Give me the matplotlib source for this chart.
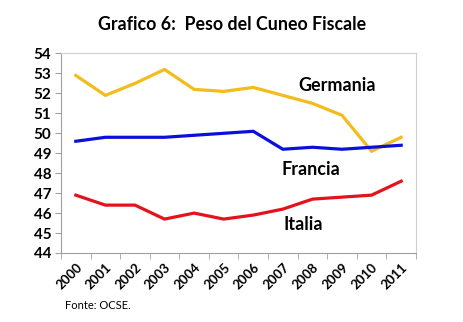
import numpy as np
import matplotlib
matplotlib.use("Agg")
import matplotlib.pyplot as plt

# data
years = ["2000", "2001", "2002", "2003", "2004", "2005",
         "2006", "2007", "2008", "2009", "2010", "2011"]
germania = [52.9, 51.9, 52.5, 53.2, 52.2, 52.1, 52.3, 51.9, 51.5, 50.9, 49.1, 49.8]
francia = [49.6, 49.8, 49.8, 49.8, 49.9, 50.0, 50.1, 49.2, 49.3, 49.2, 49.3, 49.4]
italia = [46.9, 46.4, 46.4, 45.7, 46.0, 45.7, 45.9, 46.2, 46.7, 46.8, 46.9, 47.6]

FONT = ["Lato", "DejaVu Sans"]
plt.rcParams["font.family"] = FONT

fig = plt.figure(figsize=(4.64, 3.22), dpi=100)
ax = fig.add_axes([0.1315, 0.2143, 0.765, 0.6196])

x = np.arange(len(years))
ax.plot(x, germania, color="#F2BC1B", lw=2.3, solid_joinstyle="miter")
ax.plot(x, francia, color="#0A10D8", lw=2.3, solid_joinstyle="miter")
ax.plot(x, italia, color="#E3121B", lw=2.3, solid_joinstyle="miter")

ax.set_xlim(-0.5, len(years) - 0.5)
ax.set_ylim(44, 54)
ax.set_yticks(np.arange(44, 55, 1))
ax.tick_params(axis="y", labelsize=11, length=4, color="#a0a0a0", pad=3)
for lab in ax.get_yticklabels():
    lab.set_fontweight("bold")

ax.set_xticks(x)
ax.set_xticklabels(years, rotation=45, ha="right", rotation_mode="anchor",
                   fontsize=9.5, fontweight="bold")
ax.tick_params(axis="x", length=0, pad=6)
ax.set_xticks(np.arange(-0.5, len(years)), minor=True)
ax.tick_params(axis="x", which="minor", length=4, color="#a0a0a0")

for side in ["left", "bottom"]:
    ax.spines[side].set_color("#a0a0a0")
for side in ["top", "right"]:
    ax.spines[side].set_color("#d0d0d0")

ax.text(8.85, 52.4, "Germania", fontsize=13, fontweight="bold", ha="center", va="center")
ax.text(7.95, 48.2, "Francia", fontsize=13, fontweight="bold", ha="center", va="center")
ax.text(7.7, 45.45, "Italia", fontsize=13, fontweight="bold", ha="center", va="center")

fig.text(0.5, 0.925, "Grafico 6:  Peso del Cuneo Fiscale", fontsize=12.8,
         fontweight="bold", ha="center", va="center")
fig.text(0.14, 0.05, "Fonte: OCSE.", fontsize=8, ha="left", va="center")

fig.savefig("out.png", dpi=100)
